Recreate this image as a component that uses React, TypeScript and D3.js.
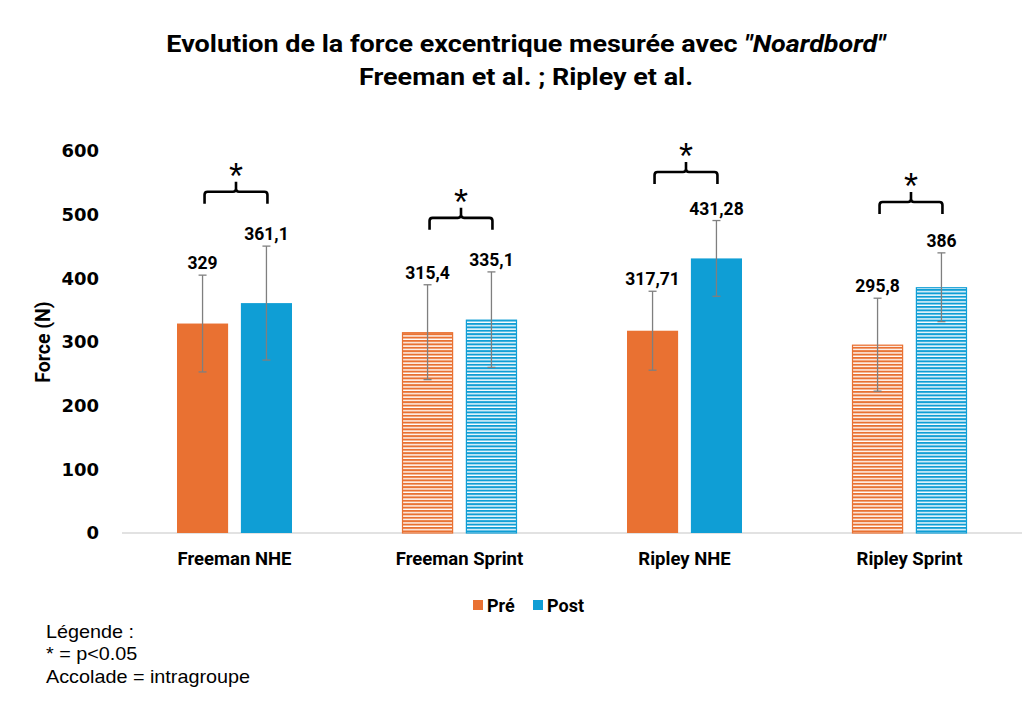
import * as d3 from 'd3';
import { useRef, useEffect } from 'react';

const categories = ['Freeman NHE', 'Freeman Sprint', 'Ripley NHE', 'Ripley Sprint'];
const seriesNames = ['Pré', 'Post'];
const preValues = [329, 315.4, 317.71, 295.8];
const postValues = [361.1, 335.1, 431.28, 386];
const preSD = [76, 74.5, 62, 73];
const postSD = [89.5, 75, 59.5, 54];
const hatched = [false, true, false, true];
const bracketLevels = [536, 495, 567, 520];
const yTicks = [0, 100, 200, 300, 400, 500, 600];

const colors: Record<string, string> = { 'Pré': '#E97132', 'Post': '#0F9ED5' };

const Chart = () => {
    const svgRef = useRef<SVGSVGElement>(null);

    useEffect(() => {
        if (!svgRef.current) return;
        const svg = d3.select(svgRef.current);
        svg.selectAll('*').remove();

        const W = 1032, H = 706;
        svg.attr('width', W).attr('height', H);
        svg.append('rect').attr('width', W).attr('height', H).attr('fill', '#fff');

        const x0 = d3.scaleBand().domain(categories).range([122, 1022]);
        const x1 = d3.scaleBand().domain(seriesNames).range([55, 170]).paddingInner(0.2);
        const y = d3.scaleLinear().domain([0, 600]).range([533, 151]);

        // stripe patterns for the sprint groups
        const defs = svg.append('defs');
        seriesNames.forEach(s => {
            const p = defs.append('pattern')
                .attr('id', `stripe-${s === 'Pré' ? 'pre' : 'post'}`)
                .attr('patternUnits', 'userSpaceOnUse')
                .attr('width', 8).attr('height', 3.4);
            p.append('rect').attr('width', 8).attr('height', 3.4).attr('fill', '#fff');
            p.append('rect').attr('width', 8).attr('height', 2).attr('fill', colors[s]);
        });

        // Title (slightly stretched like the original export)
        const title = svg.append('g')
            .attr('transform', 'translate(526,0) scale(1.1,1)')
            .append('text')
            .attr('text-anchor', 'middle')
            .style('font-family', 'Roboto, sans-serif')
            .style('font-weight', 'bold')
            .style('font-size', '24.5px')
            .attr('fill', '#000');
        const t1 = title.append('tspan').attr('x', 0).attr('y', 52);
        t1.append('tspan').text('Evolution de la force excentrique mesurée avec ');
        t1.append('tspan').style('font-style', 'italic').text('"Noardbord"');
        title.append('tspan').attr('x', 0).attr('y', 85).text('Freeman et al. ; Ripley et al.');

        // axis baseline
        svg.append('line')
            .attr('x1', 122).attr('x2', 1022)
            .attr('y1', y(0)).attr('y2', y(0))
            .attr('stroke', '#d9d9d9').attr('stroke-width', 1.3);

        // Y axis labels
        const yAxis = svg.append('g')
            .attr('transform', 'translate(122,0)')
            .call(d3.axisLeft(y).tickValues(yTicks).tickSize(0).tickPadding(23));
        yAxis.select('.domain').remove();
        yAxis.selectAll('text')
            .style('font-family', '"DejaVu Sans", sans-serif')
            .style('font-weight', 'bold')
            .style('font-size', '18px')
            .attr('fill', '#000');

        svg.append('text')
            .attr('transform', 'translate(50,342) rotate(-90)')
            .attr('text-anchor', 'middle')
            .style('font-family', 'Roboto, sans-serif')
            .style('font-weight', 'bold')
            .style('font-size', '19.5px')
            .text('Force (N)');

        // X axis labels
        const xAxis = svg.append('g')
            .attr('transform', `translate(0,${y(0)})`)
            .call(d3.axisBottom(x0).tickSize(0).tickPadding(19));
        xAxis.select('.domain').remove();
        xAxis.selectAll('text')
            .style('font-family', 'Roboto, sans-serif')
            .style('font-weight', 'bold')
            .style('font-size', '18.5px')
            .attr('fill', '#000');

        const rows = categories.flatMap((c, i) => [
            { cat: c, s: 'Pré', v: preValues[i], sd: preSD[i], h: hatched[i] },
            { cat: c, s: 'Post', v: postValues[i], sd: postSD[i], h: hatched[i] },
        ]);
        const cx = (d: { cat: string; s: string }) => (x0(d.cat) || 0) + (x1(d.s) || 0) + x1.bandwidth() / 2;

        // Bars
        svg.selectAll('.bar')
            .data(rows)
            .enter()
            .append('rect')
            .attr('class', 'bar')
            .attr('x', d => (x0(d.cat) || 0) + (x1(d.s) || 0) + (d.h ? 0.5 : 0))
            .attr('y', d => y(d.v) + (d.h ? 0.5 : 0))
            .attr('width', d => x1.bandwidth() - (d.h ? 1 : 0))
            .attr('height', d => y(0) - y(d.v) - (d.h ? 0.5 : 0))
            .attr('fill', d => d.h ? `url(#stripe-${d.s === 'Pré' ? 'pre' : 'post'})` : colors[d.s])
            .attr('stroke', d => d.h ? colors[d.s] : 'none')
            .attr('stroke-width', 1.2);

        // Error bars
        const err = svg.selectAll('.err').data(rows).enter().append('g')
            .attr('stroke', '#7f7f7f').attr('stroke-width', 1.3);
        err.append('line')
            .attr('x1', cx).attr('x2', cx)
            .attr('y1', d => y(d.v + d.sd)).attr('y2', d => y(d.v - d.sd));
        err.append('line')
            .attr('x1', d => cx(d) - 4).attr('x2', d => cx(d) + 4)
            .attr('y1', d => y(d.v + d.sd)).attr('y2', d => y(d.v + d.sd));
        err.append('line')
            .attr('x1', d => cx(d) - 4).attr('x2', d => cx(d) + 4)
            .attr('y1', d => y(d.v - d.sd)).attr('y2', d => y(d.v - d.sd));

        // Value labels
        svg.selectAll('.lbl').data(rows).enter().append('text')
            .attr('x', cx)
            .attr('y', d => y(d.v + d.sd) - 6)
            .attr('text-anchor', 'middle')
            .style('font-family', 'Roboto, sans-serif')
            .style('font-weight', 'bold')
            .style('font-size', '17.5px')
            .text(d => String(d.v).replace('.', ','));

        // Brackets with significance stars
        categories.forEach((c, i) => {
            const xa = cx({ cat: c, s: 'Pré' }) + 2;
            const xb = cx({ cat: c, s: 'Post' }) + 1;
            const m = (xa + xb) / 2;
            const by = y(bracketLevels[i]);
            const r = 3;
            const path = `M${xa},${by + 12} L${xa},${by + r} Q${xa},${by} ${xa + r},${by} L${m - r},${by} Q${m},${by} ${m},${by - r} L${m},${by - 10} M${m},${by - r} Q${m},${by} ${m + r},${by} L${xb - r},${by} Q${xb},${by} ${xb},${by + r} L${xb},${by + 12}`;
            svg.append('path')
                .attr('d', path)
                .attr('fill', 'none')
                .attr('stroke', '#000')
                .attr('stroke-width', 2.6);
            svg.append('text')
                .attr('x', m)
                .attr('y', by - 3)
                .attr('text-anchor', 'middle')
                .style('font-family', '"Liberation Sans", Arial, sans-serif')
                .style('font-size', '36px')
                .text('*');
        });

        // Legend
        const legend = svg.append('g');
        const lx = [473, 533];
        seriesNames.forEach((s, i) => {
            legend.append('rect')
                .attr('x', lx[i]).attr('y', 600)
                .attr('width', 10).attr('height', 10)
                .attr('fill', colors[s]);
            legend.append('text')
                .attr('x', lx[i] + 14).attr('y', 611.5)
                .style('font-family', 'Roboto, sans-serif')
                .style('font-weight', 'bold')
                .style('font-size', '18px')
                .text(s);
        });

        // Notes
        const notes = ['Légende :', '* = p<0.05', 'Accolade = intragroupe'];
        svg.append('g')
            .attr('transform', 'translate(46,0) scale(1.1,1)')
            .selectAll('.note').data(notes).enter().append('text')
            .attr('x', 0)
            .attr('y', (_, i) => 638 + i * 22.5)
            .style('font-family', '"Liberation Sans", Arial, sans-serif')
            .style('font-size', '18px')
            .text(d => d);
    }, []);

    return <svg ref={svgRef} style={{ display: 'block' }} />;
};

export default function App() {
    return (
        <div style={{ position: 'fixed', top: 0, left: 0 }}>
            <Chart />
        </div>
    );
}
